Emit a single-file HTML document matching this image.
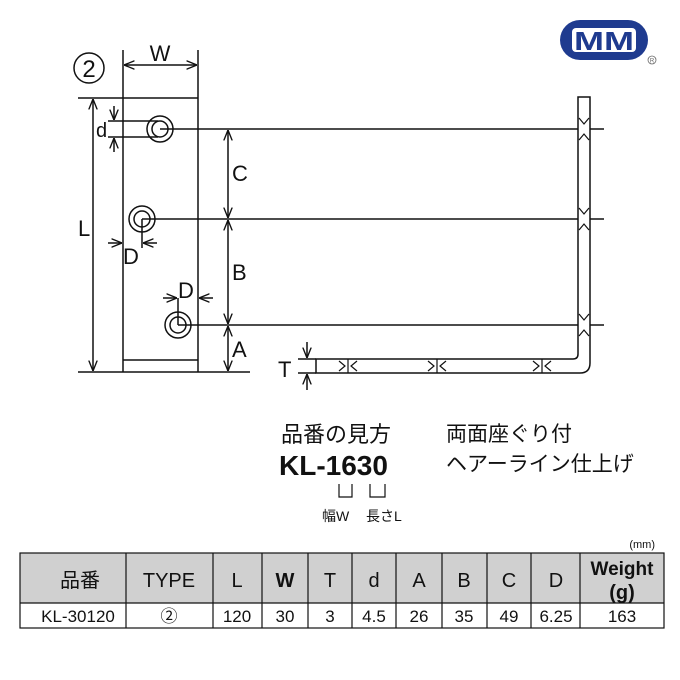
<!DOCTYPE html>
<html><head><meta charset="utf-8"><style>
body{margin:0;background:#fff}
svg{display:block}
text{font-family:"Liberation Sans","Noto Sans CJK JP",sans-serif;fill:#111}
</style></head><body>
<svg width="680" height="680" viewBox="0 0 680 680" xmlns="http://www.w3.org/2000/svg">
<defs>
<marker id="a" viewBox="0 0 10 10" refX="10" refY="5" markerWidth="7" markerHeight="7" orient="auto-start-reverse"><path d="M0,1 L10,5 L0,9" fill="none" stroke="#111" stroke-width="1.3"/></marker>
</defs>
<g stroke="#111" stroke-width="1.5" fill="none">
<circle cx="89" cy="68" r="15"/>
<line x1="123" y1="50" x2="123" y2="372"/>
<line x1="198" y1="50" x2="198" y2="372"/>
<line x1="124" y1="65" x2="197" y2="65" marker-start="url(#a)" marker-end="url(#a)"/>
<line x1="78" y1="98" x2="198" y2="98"/>
<line x1="78" y1="372" x2="250" y2="372"/>
<line x1="123" y1="360" x2="198" y2="360"/>
<line x1="93" y1="99" x2="93" y2="371" marker-start="url(#a)" marker-end="url(#a)"/>
<circle cx="160" cy="129" r="13"/><circle cx="160" cy="129" r="8"/>
<circle cx="142" cy="219" r="13"/><circle cx="142" cy="219" r="8"/>
<circle cx="178" cy="325" r="13"/><circle cx="178" cy="325" r="8"/>
<line x1="108" y1="121" x2="158" y2="121"/>
<line x1="108" y1="137" x2="158" y2="137"/>
<line x1="114" y1="106" x2="114" y2="120" marker-end="url(#a)"/>
<line x1="114" y1="152" x2="114" y2="138" marker-end="url(#a)"/>
<line x1="160" y1="129" x2="604" y2="129"/>
<line x1="142" y1="219" x2="604" y2="219"/>
<line x1="178" y1="325" x2="604" y2="325"/>
<line x1="142" y1="219" x2="142" y2="248"/>
<line x1="178" y1="298" x2="178" y2="325"/>
<line x1="108" y1="243" x2="122" y2="243" marker-end="url(#a)"/>
<line x1="157" y1="243" x2="143" y2="243" marker-end="url(#a)"/>
<line x1="163" y1="298" x2="177" y2="298" marker-end="url(#a)"/>
<line x1="213" y1="298" x2="199" y2="298" marker-end="url(#a)"/>
<line x1="228" y1="130" x2="228" y2="218" marker-start="url(#a)" marker-end="url(#a)"/>
<line x1="228" y1="220" x2="228" y2="324" marker-start="url(#a)" marker-end="url(#a)"/>
<line x1="228" y1="326" x2="228" y2="371" marker-start="url(#a)" marker-end="url(#a)"/>
<path d="M316,359 L573,359 Q578,359 578,354 L578,97 L590,97 L590,363 Q590,373 580,373 L316,373 Z" fill="#fff"/>
<line x1="298" y1="359" x2="316" y2="359"/>
<line x1="298" y1="373" x2="316" y2="373"/>
<line x1="307" y1="342" x2="307" y2="358" marker-end="url(#a)"/>
<line x1="307" y1="390" x2="307" y2="374" marker-end="url(#a)"/>
<g stroke-width="1.2">
<line x1="348" y1="359" x2="348" y2="373"/><path d="M339,361 L345,366 L339,371 M357,361 L351,366 L357,371"/>
<line x1="437" y1="359" x2="437" y2="373"/><path d="M428,361 L434,366 L428,371 M446,361 L440,366 L446,371"/>
<line x1="542" y1="359" x2="542" y2="373"/><path d="M533,361 L539,366 L533,371 M551,361 L545,366 L551,371"/>
<path d="M579,118 L584,124 L589,118 M579,140 L584,134 L589,140"/>
<path d="M579,208 L584,214 L589,208 M579,230 L584,224 L589,230"/>
<path d="M579,314 L584,320 L589,314 M579,336 L584,330 L589,336"/>
</g>
<path d="M339,484 L339,497 L352,497 L352,484 M370,484 L370,497 L385,497 L385,484" stroke-width="1.2"/>
</g>
<g font-size="22">
<text x="89" y="77" text-anchor="middle" font-size="24">2</text>
<text x="160" y="61" text-anchor="middle">W</text>
<text x="78" y="236">L</text>
<text x="96" y="137" font-size="20">d</text>
<text x="232" y="181">C</text>
<text x="232" y="280">B</text>
<text x="232" y="357">A</text>
<text x="123" y="264">D</text>
<text x="178" y="298">D</text>
<text x="278" y="377">T</text>
</g>
<text x="281" y="442" font-size="22">品番の見方</text>
<text x="279" y="475" font-size="28" font-weight="bold">KL-1630</text>
<text x="322" y="521" font-size="14">幅W</text>
<text x="366" y="521" font-size="14">長さL</text>
<text x="446" y="441" font-size="21">両面座ぐり付</text>
<text x="446" y="471" font-size="21">ヘアーライン仕上げ</text>
<rect x="560" y="20" width="88" height="40" rx="20" fill="#1f3b8f"/>
<rect x="572" y="28" width="64" height="24" rx="4" fill="#fff"/>
<text x="604" y="50" font-size="26" font-weight="bold" text-anchor="middle" style="fill:#1f3b8f" textLength="60" lengthAdjust="spacingAndGlyphs">MM</text>
<circle cx="652" cy="60" r="4" fill="none" stroke="#666" stroke-width="0.8"/>
<text x="652" y="62.5" font-size="6" text-anchor="middle" style="fill:#666">R</text>
<text x="655" y="548" font-size="11" text-anchor="end">(mm)</text>
<rect x="20" y="553" width="644" height="50" fill="#d0d0d0"/>
<g stroke="#111" stroke-width="1.2" fill="none">
<rect x="20" y="553" width="644" height="75"/>
<line x1="20" y1="603" x2="664" y2="603"/>
<line x1="126" y1="553" x2="126" y2="628"/>
<line x1="213" y1="553" x2="213" y2="628"/>
<line x1="262" y1="553" x2="262" y2="628"/>
<line x1="308" y1="553" x2="308" y2="628"/>
<line x1="352" y1="553" x2="352" y2="628"/>
<line x1="396" y1="553" x2="396" y2="628"/>
<line x1="442" y1="553" x2="442" y2="628"/>
<line x1="487" y1="553" x2="487" y2="628"/>
<line x1="531" y1="553" x2="531" y2="628"/>
<line x1="580" y1="553" x2="580" y2="628"/>
</g>
<g font-size="20" text-anchor="middle">
<text x="80" y="587">品番</text>
<text x="169" y="587">TYPE</text>
<text x="237" y="587">L</text>
<text x="285" y="587" font-weight="bold">W</text>
<text x="330" y="587">T</text>
<text x="374" y="587">d</text>
<text x="419" y="587">A</text>
<text x="464" y="587">B</text>
<text x="509" y="587">C</text>
<text x="556" y="587">D</text>
<text x="622" y="575" font-size="19" font-weight="bold">Weight</text>
<text x="622" y="599" font-family="Liberation Serif" font-weight="bold">(g)</text>
<g font-size="17">
<text x="78" y="622">KL-30120</text>
<text x="169" y="622">②</text>
<text x="237" y="622">120</text>
<text x="285" y="622">30</text>
<text x="330" y="622">3</text>
<text x="374" y="622">4.5</text>
<text x="419" y="622">26</text>
<text x="464" y="622">35</text>
<text x="509" y="622">49</text>
<text x="556" y="622">6.25</text>
<text x="622" y="622">163</text>
</g>
</g>
</svg>
</body></html>
